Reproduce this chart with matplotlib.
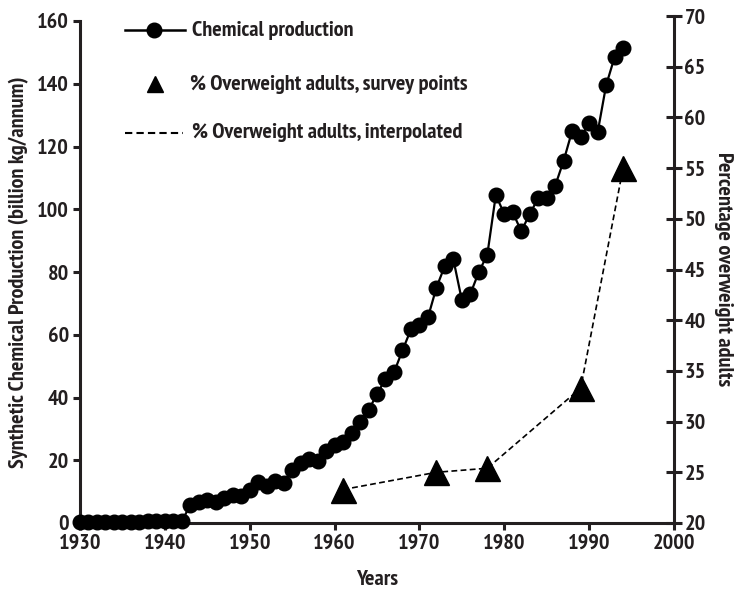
import matplotlib
matplotlib.use("Agg")
import matplotlib.pyplot as plt
from matplotlib.lines import Line2D

# ---- data ----
years_chem = list(range(1930, 1995))
chem_prod = [0.3, 0.3, 0.3, 0.3, 0.3, 0.4, 0.4, 0.4, 0.5, 0.5,
             0.6, 0.6, 0.5, 5.8, 6.8, 7.2, 6.8, 8.0, 9.0, 8.5,
             10.5, 13.0, 11.8, 13.5, 12.8, 17.0, 19.0, 20.3, 19.8, 22.8,
             25.0, 25.8, 28.8, 32.3, 36.0, 41.0, 46.0, 48.0, 55.0, 61.7,
             63.0, 65.5, 75.0, 82.0, 84.0, 71.0, 73.0, 80.0, 85.5, 104.5,
             98.5, 99.0, 93.0, 98.5, 103.5, 103.5, 107.5, 115.5, 125.0, 123.0,
             127.5, 124.5, 139.5, 148.5, 151.5]
years_survey = [1961, 1972, 1978, 1989, 1994]
pct_overweight = [23.3, 25.0, 25.4, 33.3, 55.0]

left_ticks = [0, 20, 40, 60, 80, 100, 120, 140, 160]
right_ticks = [20, 25, 30, 35, 40, 45, 50, 55, 60, 65, 70]
x_ticks = [1930, 1940, 1950, 1960, 1970, 1980, 1990, 2000]

FAM = ["PT Sans Narrow", "DejaVu Sans"]
plt.rcParams["font.family"] = FAM
plt.rcParams["font.weight"] = "bold"
plt.rcParams["axes.labelweight"] = "bold"

W, H = 742, 596
fig = plt.figure(figsize=(W / 100, H / 100), dpi=100)

def fx(px):
    return px / W

def fy(py):
    return 1 - py / H

L, R, T1, T2, B = 80, 674, 21, 16, 523
ax = fig.add_axes([fx(L), fy(B), fx(R) - fx(L), fy(T1) - fy(B)])
ax2 = fig.add_axes([fx(L), fy(B), fx(R) - fx(L), fy(T2) - fy(B)])
ax2.patch.set_visible(False)

col = "#231f20"
FS = 16
ax.plot(years_chem, chem_prod, color="black", lw=1.6, marker="o", ms=10.5,
        mfc="black", mec="black", clip_on=False, zorder=3)
ax.set_xlim(1930, 2000)
ax.set_ylim(0, 160)
ax.set_xticks(x_ticks)
ax.set_yticks(left_ticks)
for s in ["top", "right"]:
    ax.spines[s].set_visible(False)
for s in ["left", "bottom"]:
    ax.spines[s].set_linewidth(2.2)
    ax.spines[s].set_color(col)
ax.tick_params(axis="both", direction="out", length=5, width=2.2, color=col,
               labelsize=FS, labelcolor=col, pad=3)
ax.set_ylabel("Synthetic Chemical Production (billion kg/annum)", fontsize=FS,
              color=col, labelpad=6)
ax.set_xlabel("Years", fontsize=FS, color=col, labelpad=12)

ax2.plot(years_survey, pct_overweight, color="black", lw=1.2, ls=(0, (3.5, 2)),
         zorder=2)
ax2.plot(years_survey, pct_overweight, ls="none", marker="^", ms=18,
         mfc="black", mec="black", zorder=4, clip_on=False)
ax2.set_xlim(1930, 2000)
ax2.set_ylim(20, 70)
ax2.set_yticks(right_ticks)
ax2.yaxis.tick_right()
ax2.yaxis.set_label_position("right")
ax2.set_xticks([])
for s in ["top", "left", "bottom"]:
    ax2.spines[s].set_visible(False)
ax2.spines["right"].set_linewidth(2.2)
ax2.spines["right"].set_color(col)
ax2.tick_params(axis="y", direction="inout", length=11, width=2.2, color=col,
                labelsize=FS, labelcolor=col, pad=2)
ax2.set_ylabel("Percentage overweight adults", fontsize=FS, color=col,
               rotation=270, labelpad=20)

# ---- legend drawn manually ----
lg = [(30, "Chemical production"), (84, "% Overweight adults, survey points"),
      (133, "% Overweight adults, interpolated")]
fig.add_artist(Line2D([fx(125), fx(185)], [fy(lg[0][0])] * 2, color="black",
                      lw=1.8, transform=fig.transFigure))
fig.add_artist(Line2D([fx(154)], [fy(lg[0][0])], color="black", marker="o",
                      ms=10.5, transform=fig.transFigure))
fig.add_artist(Line2D([fx(155)], [fy(lg[1][0])], color="black", marker="^",
                      ms=12, ls="none", transform=fig.transFigure))
fig.add_artist(Line2D([fx(125), fx(183)], [fy(lg[2][0])] * 2, color="black",
                      lw=1.5, ls=(0, (3.5, 2)), transform=fig.transFigure))
for (py, txt), px in zip(lg, [192, 190, 192]):
    fig.text(fx(px), fy(py), txt, fontsize=FS, color=col, va="center",
             ha="left")

fig.savefig("out.png", dpi=100)
